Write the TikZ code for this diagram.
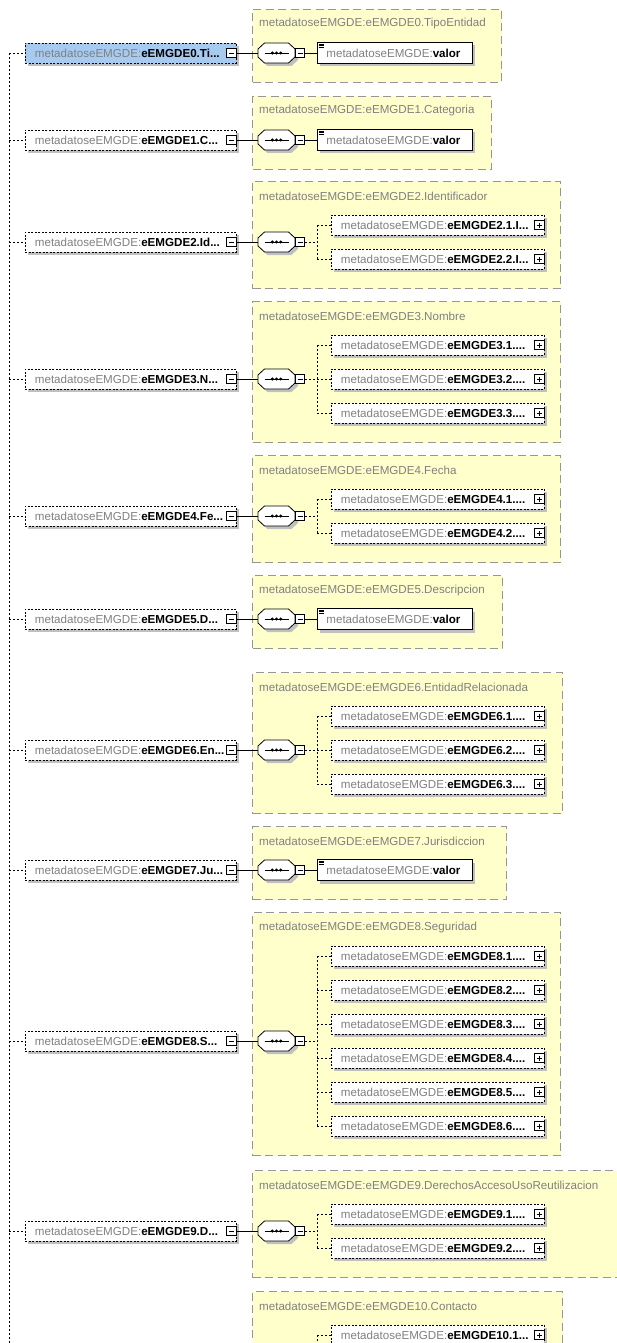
\documentclass[tikz,border=0pt]{standalone}
\usepackage{fontspec}
\setmainfont{Liberation Sans}
\usetikzlibrary{shadows,calc}
\definecolor{tgrey}{RGB}{128,128,128}
\definecolor{yfill}{RGB}{255,255,204}
\definecolor{yborder}{RGB}{150,150,150}
\definecolor{selblue}{RGB}{166,202,240}
\definecolor{shgrey}{RGB}{192,192,192}
\newcommand{\nsp}{\textcolor{tgrey}{metadatoseEMGDE:}}
\newcommand{\mkminus}[2]{%
  \node[pmbox] (#1) at (#2) {};
  \draw[conn, line width=0.7pt] ([xshift=-2.5pt]#1.center) -- ([xshift=2.5pt]#1.center);}
\newcommand{\mkplus}[2]{%
  \node[pmbox] (#1) at (#2) {};
  \draw[conn, line width=0.7pt] ([xshift=-2.5pt]#1.center) -- ([xshift=2.5pt]#1.center)
     ([yshift=-2.5pt]#1.center) -- ([yshift=2.5pt]#1.center);}
\newcommand{\mkcomp}[2]{%
  \node[compbox] (#1) at (276.5,#2) {};
  \begin{scope}[shift={(276.5,#2)}]
    \fill[shgrey, shift={(3,3)}] (-18.5,-4) -- (-12,-10) -- (12,-10) -- (18.5,-4) -- (18.5,4) -- (12,10) -- (-12,10) -- (-18.5,4) -- cycle;
    \draw[conn, fill=white] (-18.5,-4) -- (-12,-10) -- (12,-10) -- (18.5,-4) -- (18.5,4) -- (12,10) -- (-12,10) -- (-18.5,4) -- cycle;
    \draw[conn] (-12,0) -- (12,0);
    \fill (-4.2,0) circle (1.7pt) (0,0) circle (1.7pt) (4.2,0) circle (1.7pt);
  \end{scope}}
\newcommand{\mkelem}[4][]{% style, idx, y, bold text
  \node[elembox,#1] (e#2) at (25,#3) {\nsp\textbf{#4}};
  \mkminus{e#2m}{231.5,#3}
  \draw[dconn] (e#2.west -| trunk) -- (e#2.west);
  \mkcomp{c#2}{#3}
  \draw[conn] (e#2m.east) -- (c#2.west);
  \mkminus{c#2m}{300,#3}
  \draw[conn] (c#2.east) -- (c#2m.west);}
\newcommand{\mkybox}[5]{% idx, top, right, bottom, title
  \node[ybox, minimum width={#3-252}, minimum height={#4-#2}] (y#1) at (252,#2) {};
  \node[ytitle] (t#1) at (259,{#2+15}) {#5};}
\newcommand{\mkvalor}[2]{%
  \node[valbox] (v#1) at (317,#2) {\nsp\textbf{valor}};
  \draw[conn] (c#1m.east) -- (v#1.west);
  \draw[line width=0.6pt] ([shift={(1.5,1.8)}]v#1.north west) -- ++(5,0)
    ([shift={(1.5,3.6)}]v#1.north west) -- ++(5,0)
    ([shift={(1.5,5.4)}]v#1.north west) -- ++(5,0);}
\newcommand{\mkjunc}[2]{%
  \coordinate (j#1) at (317,#2);
  \draw[dconn] (c#1m.east) -- (j#1);}
\newcommand{\mkchild}[4]{% parent, k, y, text
  \node[childbox] (k#1#2) at (331,#3) {\nsp\textbf{#4}};
  \mkplus{k#1#2p}{539.5,#3}
  \draw[dconn] (j#1 |- k#1#2.west) -- (k#1#2.west);}
\begin{document}
\begin{tikzpicture}[x=1pt,y=-1pt,
  every node/.style={font=\fontsize{11.6}{13}\selectfont, inner ysep=0pt},
  conn/.style={line width=0.8pt, black},
  dconn/.style={conn, dash pattern=on 2pt off 2pt},
  sh/.style={drop shadow={shadow xshift=3pt, shadow yshift=-3pt, opacity=1, fill=shgrey}},
  elembox/.style={draw, line width=0.8pt, dash pattern=on 2pt off 1.5pt, fill=white, sh, anchor=west, minimum height=20pt, text width=192pt, inner xsep=9.5pt, align=left},
  childbox/.style={elembox, text width=194pt},
  valbox/.style={draw, line width=0.8pt, fill=white, sh, anchor=west, minimum height=21pt, text width=137pt, inner xsep=9pt, align=left},
  pmbox/.style={draw, line width=0.8pt, fill=white, minimum size=9.5pt, inner sep=0pt},
  ybox/.style={draw=yborder, fill=yfill, line width=1pt, dash pattern=on 8pt off 4.5pt, anchor=north west, inner sep=0pt},
  ytitle/.style={anchor=west, text=tgrey, inner xsep=0pt},
  compbox/.style={minimum width=37pt, minimum height=20pt, inner sep=0pt},
]
\path[use as bounding box] (0,0) rectangle (617,1343);
\fill[white] (0,0) rectangle (617,1343);
\clip (0,0) rectangle (617,1343);
\coordinate (trunk) at (9,53);
\coordinate (trunkend) at (9,1343);
\draw[dconn] (trunk) -- (trunkend);

% 0
\mkybox{0}{9}{501}{82}{metadatoseEMGDE:eEMGDE0.TipoEntidad}
\mkelem[fill=selblue]{0}{53}{eEMGDE0.Ti...}
\mkvalor{0}{53}
% 1
\mkybox{1}{96}{491}{169}{metadatoseEMGDE:eEMGDE1.Categoria}
\mkelem{1}{140}{eEMGDE1.C...}
\mkvalor{1}{140}
% 2
\mkybox{2}{181}{560}{288}{metadatoseEMGDE:eEMGDE2.Identificador}
\mkelem{2}{242}{eEMGDE2.Id...}
\mkjunc{2}{242}
\mkchild{2}{1}{225}{eEMGDE2.1.I...}
\mkchild{2}{2}{259}{eEMGDE2.2.I...}
\draw[dconn] (j2 |- k21.west) -- (j2 |- k22.west);
% 3
\mkybox{3}{301}{560}{442}{metadatoseEMGDE:eEMGDE3.Nombre}
\mkelem{3}{379}{eEMGDE3.N...}
\mkjunc{3}{379}
\mkchild{3}{1}{345}{eEMGDE3.1....}
\mkchild{3}{2}{379}{eEMGDE3.2....}
\mkchild{3}{3}{413}{eEMGDE3.3....}
\draw[dconn] (j3 |- k31.west) -- (j3 |- k33.west);
% 4
\mkybox{4}{455}{560}{562}{metadatoseEMGDE:eEMGDE4.Fecha}
\mkelem{4}{516}{eEMGDE4.Fe...}
\mkjunc{4}{516}
\mkchild{4}{1}{499}{eEMGDE4.1....}
\mkchild{4}{2}{533}{eEMGDE4.2....}
\draw[dconn] (j4 |- k41.west) -- (j4 |- k42.west);
% 5
\mkybox{5}{575}{502}{648}{metadatoseEMGDE:eEMGDE5.Descripcion}
\mkelem{5}{619}{eEMGDE5.D...}
\mkvalor{5}{619}
% 6
\mkybox{6}{672}{562}{813}{metadatoseEMGDE:eEMGDE6.EntidadRelacionada}
\mkelem{6}{750}{eEMGDE6.En...}
\mkjunc{6}{750}
\mkchild{6}{1}{716}{eEMGDE6.1....}
\mkchild{6}{2}{750}{eEMGDE6.2....}
\mkchild{6}{3}{784}{eEMGDE6.3....}
\draw[dconn] (j6 |- k61.west) -- (j6 |- k63.west);
% 7
\mkybox{7}{826}{506}{899}{metadatoseEMGDE:eEMGDE7.Jurisdiccion}
\mkelem{7}{870}{eEMGDE7.Ju...}
\mkvalor{7}{870}
% 8
\mkybox{8}{912}{560}{1155}{metadatoseEMGDE:eEMGDE8.Seguridad}
\mkelem{8}{1041}{eEMGDE8.S...}
\mkjunc{8}{1041}
\mkchild{8}{1}{956}{eEMGDE8.1....}
\mkchild{8}{2}{990}{eEMGDE8.2....}
\mkchild{8}{3}{1024}{eEMGDE8.3....}
\mkchild{8}{4}{1058}{eEMGDE8.4....}
\mkchild{8}{5}{1092}{eEMGDE8.5....}
\mkchild{8}{6}{1126}{eEMGDE8.6....}
\draw[dconn] (j8 |- k81.west) -- (j8 |- k86.west);
% 9
\mkybox{9}{1170}{660}{1277}{metadatoseEMGDE:eEMGDE9.DerechosAccesoUsoReutilizacion}
\mkelem{9}{1231}{eEMGDE9.D...}
\mkjunc{9}{1231}
\mkchild{9}{1}{1214}{eEMGDE9.1....}
\mkchild{9}{2}{1248}{eEMGDE9.2....}
\draw[dconn] (j9 |- k91.west) -- (j9 |- k92.west);
% 10
\mkybox{10}{1291}{562}{1420}{metadatoseEMGDE:eEMGDE10.Contacto}
\coordinate (j10) at (317,1400);
\mkchild{10}{1}{1335}{eEMGDE10.1...}
\draw[dconn] (j10 |- k101.west) -- (j10);
\end{tikzpicture}
\end{document}
